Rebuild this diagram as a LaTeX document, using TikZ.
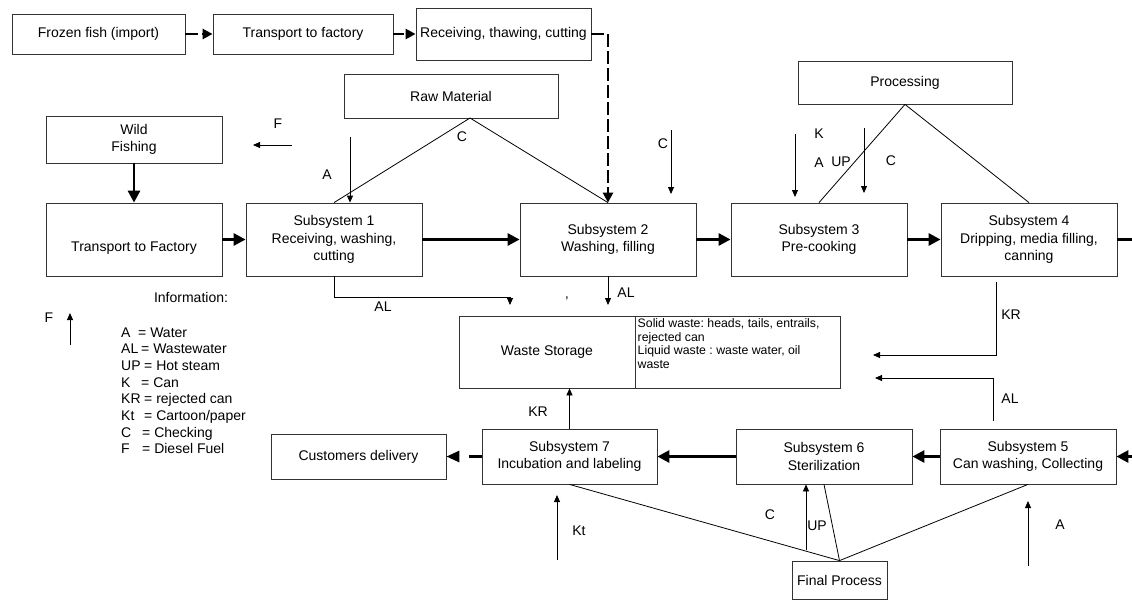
\documentclass[tikz,border=0pt]{standalone}
\usepackage{fontspec}
\setmainfont{Liberation Sans}
\usetikzlibrary{arrows.meta}
\frenchspacing
\newcommand\mainfs{\fontsize{14}{17.3}\selectfont}
\newcommand\smallfs{\fontsize{12.3}{13.9}\selectfont}
\newcommand\legfs{\fontsize{14}{16}\selectfont}
\begin{document}
\begin{tikzpicture}[x=1pt,y=-1pt,
  box/.style={draw=black!80, line width=0.8pt, align=center, inner sep=0pt, font=\mainfs},
  lbl/.style={inner sep=0pt, font=\mainfs},
  leg/.style={inner sep=0pt, font=\legfs, anchor=base west},
  plainln/.style={draw=black, line width=0.8pt},
  thinarr/.style={draw=black, line width=0.8pt, -{Triangle[length=7pt,width=6pt]}},
  thickarr/.style={draw=black, line width=2.8pt, -{Triangle[length=12pt,width=12pt]}},
  thickln/.style={draw=black, line width=2.8pt},
  dasharr/.style={draw=black, line width=2.6pt, dash pattern=on 13pt off 4pt, -{Triangle[length=10pt,width=10pt]}}
]
\useasboundingbox (0,0) rectangle (1132,600);
\fill[white] (0,0) rectangle (1132,600);

% top row
\node[box, minimum width=173pt, minimum height=40pt] (frozen) at (98.5,34) {Frozen fish (import)};
\node[box, minimum width=180pt, minimum height=40pt] (tfac) at (303,34) {Transport to factory};
\node[box, minimum width=175pt, minimum height=52pt] (recv) at (503.5,34) {Receiving, thawing, cutting};

% upper boxes
\node[box, minimum width=214pt, minimum height=44pt] (raw) at (451,96) {Raw Material};
\node[box, minimum width=214pt, minimum height=43pt] (proc) at (905,82.5) {Processing};
\node[box, minimum width=176pt, minimum height=47pt] (wild) at (134,139.5) {Wild\\Fishing};

% subsystem row
\node[box, minimum width=176pt, minimum height=73pt] (tf) at (134,239.5) {\raisebox{-12pt}[0pt][0pt]{Transport to Factory}};
\node[box, minimum width=176pt, minimum height=73pt] (sub1) at (334,239.5) {Subsystem 1\\Receiving, washing,\\cutting};
\node[box, minimum width=176pt, minimum height=73pt] (sub2) at (608,239.5) {Subsystem 2\\Washing, filling};
\node[box, minimum width=176pt, minimum height=73pt] (sub3) at (819,239.5) {Subsystem 3\\Pre-cooking};
\node[box, minimum width=176pt, minimum height=73pt] (sub4) at (1029,239.5) {Subsystem 4\\Dripping, media filling,\\canning};

% waste storage
\node[box, minimum width=176pt, minimum height=72pt] (waste) at (547,352) {Waste Storage};
\node[box, minimum width=205pt, minimum height=72pt] (wnote) at (737.5,352) {};
\node[anchor=north west, align=left, inner sep=0pt, font=\smallfs] (wtext) at (637.5,318) {Solid waste: heads, tails, entrails,\\rejected can\\Liquid waste : waste water, oil\\waste};

% bottom row
\node[box, minimum width=175pt, minimum height=45pt] (cust) at (358.5,456.5) {Customers delivery};
\node[box, minimum width=175pt, minimum height=55pt] (sub7) at (569.5,456.5) {Subsystem 7\\Incubation and labeling};
\node[box, minimum width=176pt, minimum height=55pt] (sub6) at (824,456.5) {Subsystem 6\\Sterilization};
\node[box, minimum width=176pt, minimum height=55pt] (sub5) at (1028,456.5) {Subsystem 5\\Can washing, Collecting};
\node[box, minimum width=95pt, minimum height=38pt] (final) at (839.5,580) {Final Process};

% top row dashed arrows
\draw[dasharr] (frozen.east) -- (tfac.west);
\draw[dasharr, dash pattern=on 11pt off 3pt] (tfac.east) -- (recv.west);
\draw[dasharr] (recv.east) -| (sub2.north);

% thick flow
\draw[thickarr] (wild.south) -- (tf.north);
\draw[thickarr] (tf.east) -- (sub1.west);
\draw[thickarr] (sub1.east) -- (sub2.west);
\draw[thickarr] (sub2.east) -- (sub3.west);
\draw[thickarr] (sub3.east) -- (sub4.west);
\coordinate (rout) at (1132,239.5);
\coordinate (rin) at (1132,456.5);
\draw[thickln] (sub4.east) -- (rout);
\draw[thickarr] (rin) -- (sub5.east);
\draw[thickarr] (sub5.west) -- (sub6.east);
\draw[thickarr] (sub6.west) -- (sub7.east);
\draw[dasharr, line width=2.8pt, dash pattern=on 13pt off 10pt, -{Triangle[length=13pt,width=11pt]}] (sub7.west) -- (cust.east);

% triangles
\coordinate (rawapex) at (470,118);
\draw[plainln] (sub1.north) -- (rawapex) -- (sub2.north);
\draw[plainln] (sub3.north) -- (proc.south) -- (sub4.north);
\draw[plainln] (sub7.south) -- (final.north) -- (sub5.south);
\draw[plainln] (sub6.south) -- (final.north);

% thin inputs (top)
\coordinate (aS) at (350,137);
\draw[thinarr] (aS) -- (aS |- sub1.north);
\coordinate (c2S) at (671,130);
\coordinate (c2E) at (671,194);
\draw[thinarr] (c2S) -- (c2E);
\coordinate (kS) at (795,134);
\coordinate (kE) at (795,197);
\draw[thinarr] (kS) -- (kE);
\coordinate (upS) at (864,128);
\coordinate (upE) at (864,193);
\draw[thinarr] (upS) -- (upE);
\coordinate (fS) at (292,145);
\coordinate (fE) at (253,145);
\draw[thinarr] (fS) -- (fE);

% waste flows
\coordinate (al1t) at (510,297);
\coordinate (al1e) at (510,305);
\draw[thinarr] (sub1.south) |- (al1t) -- (al1e);
\coordinate (al2e) at (608,305);
\draw[thinarr] (sub2.south) -- (al2e);
\coordinate (kr4s) at (996,282);
\coordinate (kr4e) at (873,355);
\draw[thinarr] (kr4s) |- (kr4e);
\coordinate (al5s) at (993,421);
\coordinate (al5e) at (875,378);
\draw[thinarr] (al5s) |- (al5e);
\draw[thinarr] (sub7.north) -- (sub7.north |- waste.south);

% thin inputs (bottom)
\coordinate (ktS) at (557,560);
\coordinate (ktE) at (557,495);
\draw[thinarr] (ktS) -- (ktE);
\coordinate (ubS) at (806,550);
\draw[thinarr] (ubS) -- (ubS |- sub6.south);
\coordinate (abS) at (1028,566);
\coordinate (abE) at (1028,501);
\draw[thinarr] (abS) -- (abE);
\coordinate (flS) at (70,345);
\coordinate (flE) at (70,313);
\draw[thinarr] (flS) -- (flE);

% labels
\node[lbl] (lF1) at (278,124) {F};
\node[lbl] (lC1) at (462,137) {C};
\node[lbl] (lA1) at (327,175) {A};
\node[lbl] (lC2) at (663,144) {C};
\node[lbl] (lK) at (819,134) {K};
\node[lbl] (lA3) at (819,163) {A};
\node[lbl] (lUP3) at (841,162) {UP};
\node[lbl] (lC3) at (891,161) {C};
\node[lbl] (lAL2) at (626,293) {AL};
\node[lbl] (lAL1) at (383,307) {AL};
\node[lbl] (ltick) at (567,302) {'};
\node[lbl] (lKR4) at (1011,315) {KR};
\node[lbl] (lAL5) at (1010,399) {AL};
\node[lbl] (lKR7) at (538,412) {KR};
\node[lbl] (lKt) at (579,531) {Kt};
\node[lbl] (lC6) at (770,515) {C};
\node[lbl] (lUP6) at (817,526) {UP};
\node[lbl] (lA5) at (1060,525) {A};
\node[lbl] (lF2) at (49,318) {F};

% legend
\node[lbl] (info) at (191,297) {Information:};
\node[leg] (lg1) at (121,337) {\makebox[17pt][l]{A}= Water};
\node[leg] (lg2) at (121,353.7) {\makebox[20pt][l]{AL}= Wastewater};
\node[leg] (lg3) at (121,370.4) {\makebox[23pt][l]{UP}= Hot steam};
\node[leg] (lg4) at (121,387.1) {\makebox[20pt][l]{K}= Can};
\node[leg] (lg5) at (121,403.8) {\makebox[23pt][l]{KR}= rejected can};
\node[leg] (lg6) at (121,420.5) {\makebox[23pt][l]{Kt}= Cartoon/paper};
\node[leg] (lg7) at (121,437.2) {\makebox[21pt][l]{C}= Checking};
\node[leg] (lg8) at (121,453.9) {\makebox[21pt][l]{F}= Diesel Fuel};
\end{tikzpicture}
\end{document}
